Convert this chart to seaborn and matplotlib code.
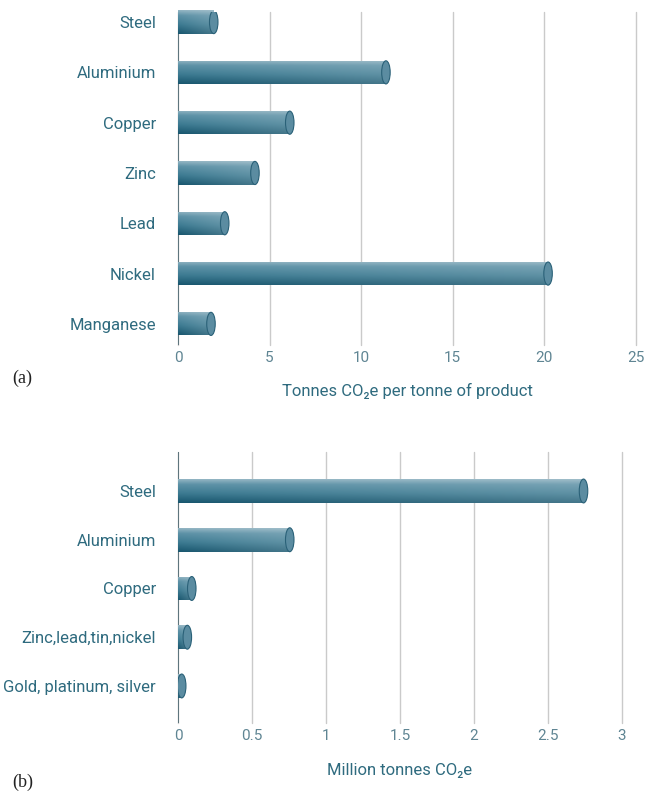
import numpy as np
import pandas as pd
import matplotlib
matplotlib.use('Agg')
import matplotlib.pyplot as plt
import seaborn as sns
from matplotlib.patches import Ellipse
from matplotlib.colors import LinearSegmentedColormap, to_rgb

# --- data ---
metals_a = ['Steel', 'Aluminium', 'Copper', 'Zinc', 'Lead', 'Nickel', 'Manganese']
intensity_a = [1.95, 11.35, 6.1, 4.2, 2.55, 20.2, 1.8]
ticks_a = [0, 5, 10, 15, 20, 25]

metals_b = ['Steel', 'Aluminium', 'Copper', 'Zinc,lead,tin,nickel', 'Gold, platinum, silver']
emissions_b = [2.74, 0.755, 0.093, 0.063, 0.025]
ticks_b = [0, 0.5, 1, 1.5, 2, 2.5, 3]
tick_labels_b = ['0', '0.5', '1', '1.5', '2', '2.5', '3']

sns.set_style('white')
plt.rcParams['font.family'] = ['Roboto', 'DejaVu Sans']

TEXT = '#2f6b7f'
TICK = '#5f8593'
FIG_W, FIG_H = 646, 793

# vertical shading of the cylinders (top light -> bottom dark)
shade = LinearSegmentedColormap.from_list(
    'cyl', [(0, '#93b5c3'), (0.22, '#5c91a6'), (0.6, '#3c7a91'), (1, '#18566e')])


def cylinder_img(nrow=60, ncol=120):
    v = shade(np.linspace(0, 1, nrow))[:, :3]
    img = np.repeat(v[:, None, :], ncol, axis=1)
    # lighter / greyer toward the right end
    s = np.linspace(0, 0.25, ncol)[None, :, None]
    light = np.array(to_rgb('#c6d6dd'))
    return img * (1 - s) + light * s


def draw_panel(ax, cats, vals, width, xlim, ylim, ticks, tick_labels, xlabel, labelpad):
    df = pd.DataFrame({'metal': cats, 'value': vals})
    sns.barplot(data=df, x='value', y='metal', orient='h', width=width,
                color='#3a7890', ax=ax, zorder=2)
    ax.set_xlim(*xlim)
    ax.set_ylim(*ylim)

    # pixel size in data units for the end caps
    bb = ax.get_position()
    px = (xlim[1] - xlim[0]) / (bb.width * FIG_W)
    cap_w = 8.5 * px

    img = cylinder_img()
    for p in list(ax.patches):
        x0, y0, w, h = p.get_x(), p.get_y(), p.get_width(), p.get_height()
        im = ax.imshow(img, extent=(x0, x0 + w, y0 + h, y0), aspect='auto',
                       origin='upper', interpolation='bilinear', zorder=3)
        im.set_clip_path(p)
        p.set_facecolor('none')
        p.set_edgecolor('none')
        ax.add_patch(Ellipse((x0 + w, y0 + h / 2), cap_w, h, facecolor='#5b8ca1',
                             edgecolor='#2a6178', lw=0.8, zorder=4))

    ax.set_xlim(*xlim)
    ax.set_ylim(*ylim)
    ax.set_aspect('auto')
    sns.despine(ax=ax, left=True, bottom=True)
    ax.set_xticks(ticks)
    ax.set_xticklabels(tick_labels)
    ax.xaxis.grid(True, color='#cacaca', lw=1)
    for gl in ax.get_xgridlines():
        gl.set_clip_on(False)
    ax.set_axisbelow(True)
    ax.axvline(0, color='#49646e', lw=1.2, zorder=1.5)
    ax.tick_params(axis='x', length=0, pad=4, labelsize=11, labelcolor=TICK)
    ax.tick_params(axis='y', length=0, pad=16, labelsize=12, labelcolor=TEXT)
    ax.set_ylabel('')
    ax.set_xlabel(xlabel, fontsize=12, color=TEXT, labelpad=labelpad)


fig = plt.figure(figsize=(FIG_W / 100, FIG_H / 100), dpi=100)

# panel (a)
ax_a = fig.add_axes([178 / FIG_W, 1 - 345 / FIG_H, (636 - 178) / FIG_W, (345 - 12) / FIG_H])
draw_panel(ax_a, metals_a, intensity_a, 0.46, (0, 25), (6.42, -0.2),
           ticks_a, [str(t) for t in ticks_a], 'Tonnes CO₂e per tonne of product', 13)

# panel (b)
ax_b = fig.add_axes([178 / FIG_W, 1 - 723 / FIG_H, (622 - 178) / FIG_W, (723 - 452) / FIG_H])
draw_panel(ax_b, metals_b, emissions_b, 0.49, (0, 3), (4.76, -0.8),
           ticks_b, tick_labels_b, 'Million tonnes CO₂e', 15)

fig.text(12 / FIG_W, 1 - 378 / FIG_H, '(a)', family='Liberation Serif', fontsize=13,
         color='#222222', va='center', ha='left')
fig.text(12 / FIG_W, 1 - 782 / FIG_H, '(b)', family='Liberation Serif', fontsize=13,
         color='#222222', va='center', ha='left')

fig.savefig('out.png', dpi=100, facecolor='white')
